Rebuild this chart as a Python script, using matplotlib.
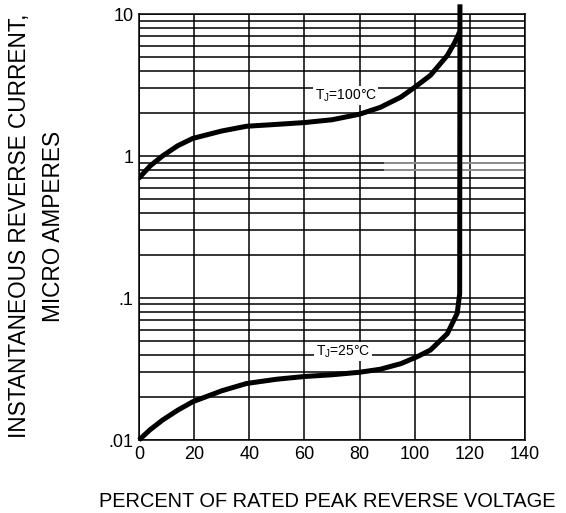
import matplotlib
matplotlib.use('Agg')
import matplotlib.pyplot as plt
from matplotlib.ticker import FixedLocator, LogLocator, NullFormatter

# percent of rated peak reverse voltage vs. reverse current (uA)
x_100 = [0, 4, 8.5, 14, 19.5, 30, 39, 50, 60, 70, 80, 87.5, 95, 100, 105.7, 111.8, 114.5, 116.3]
i_100 = [0.70, 0.85, 1.0, 1.18, 1.33, 1.50, 1.62, 1.67, 1.72, 1.80, 1.97, 2.2, 2.6, 3.05, 3.7, 5.1, 6.3, 7.5]

x_25 = [0, 4, 8.5, 14, 19.5, 30, 39, 50, 60, 70, 80, 87.5, 95, 100.9, 105.7, 111.8, 115.4,
        116.3, 116.4]
i_25 = [0.0100, 0.0118, 0.0138, 0.0162, 0.0186, 0.0222, 0.0250, 0.0268, 0.0280, 0.0288,
        0.0300, 0.0315, 0.0345, 0.0386, 0.043, 0.056, 0.078, 0.107, 11.7]

x_ticks = [0, 20, 40, 60, 80, 100, 120, 140]
y_ticks = [0.01, 0.1, 1, 10]
y_tick_labels = ['.01', '.1', '1', '10']

plt.rcParams['font.family'] = ['Liberation Sans', 'DejaVu Sans']

fig = plt.figure(figsize=(5.66, 5.13), dpi=100)
ax = fig.add_axes([0.2456, 0.1423, 0.682, 0.8304])

ax.set_yscale('log')
ax.set_xlim(0, 140)
ax.set_ylim(0.01, 10)

ax.xaxis.set_major_locator(FixedLocator(x_ticks))
ax.set_yticks(y_ticks)
ax.set_yticklabels(y_tick_labels)
ax.yaxis.set_minor_locator(LogLocator(base=10, subs=range(2, 10)))
ax.yaxis.set_minor_formatter(NullFormatter())

# grid
ax.grid(True, which='major', color='black', lw=1.1)
ax.grid(True, which='minor', axis='y', color='black', lw=1.1)
for s in ax.spines.values():
    s.set_linewidth(1.1)

# greyed-out segments on the 0.9 and 0.8 lines
ax.hlines([0.9, 0.8], 89, 140, color='#999999', lw=1.3, zorder=2.5)

ax.tick_params(which='both', length=0, labelsize=13, pad=4)

# curves
ax.plot(x_100, i_100, color='black', lw=3.6, solid_capstyle='round', zorder=4)
ax.plot(x_25, i_25, color='black', lw=3.6, solid_capstyle='butt', zorder=4, clip_on=False)

bbox = dict(facecolor='white', edgecolor='none', pad=1)
ax.text(75, 2.65, 'T$_\\mathregular{J}$=100\u00b0C', fontsize=10, ha='center', va='center',
        bbox=bbox, zorder=3)
ax.text(74, 0.042, 'T$_\\mathregular{J}$=25\u00b0C', fontsize=10, ha='center', va='center',
        bbox=bbox, zorder=3)

fig.text(0.5786, 0.0224, 'PERCENT OF RATED PEAK REVERSE VOLTAGE', fontsize=14.4,
         ha='center', va='center')
fig.text(0.0645, 0.559, 'INSTANTANEOUS REVERSE CURRENT,\nMICRO AMPERES', fontsize=16.3,
         rotation=90, ha='center', va='center', linespacing=1.6, multialignment='center')

fig.savefig('out.png', dpi=100)
